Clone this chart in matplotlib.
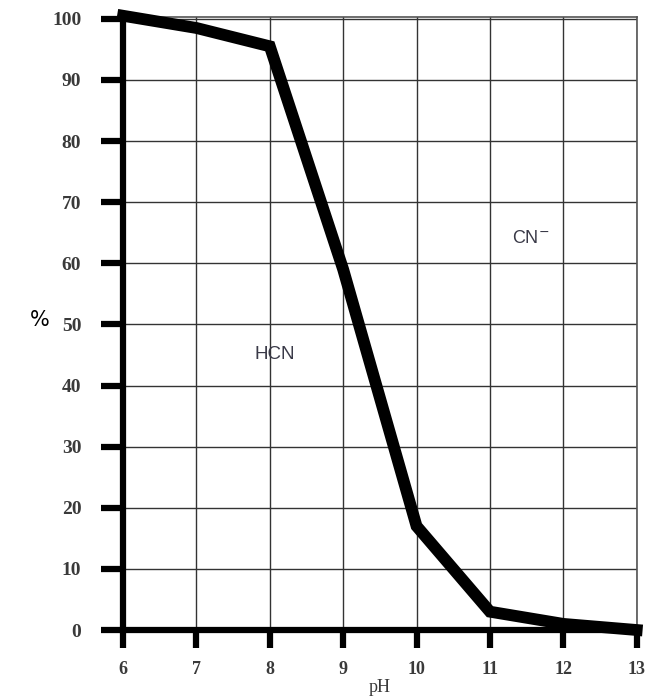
import numpy as np
import matplotlib.pyplot as plt

# pH vs percentage HCN
ph = [6, 7, 8, 9, 10, 11, 12, 13]
pct_hcn = [100.5, 98.5, 95.5, 59, 17, 3, 1, 0]
x_ticks = [6, 7, 8, 9, 10, 11, 12, 13]
y_ticks = [0, 10, 20, 30, 40, 50, 60, 70, 80, 90, 100]

fig = plt.figure(figsize=(6.51, 6.99), dpi=100)
ax = fig.add_axes([0.189, 0.0987, 0.789, 0.877])

ax.plot(ph, pct_hcn, color='black', linewidth=8.5, solid_joinstyle='miter', zorder=5, clip_on=False)

ax.set_xlim(6, 13)
ax.set_ylim(0, 100.3)
ax.set_xticks(x_ticks)
ax.set_yticks(y_ticks)
ax.grid(True, color='#333333', linewidth=1.0)
ax.set_axisbelow(True)

for side in ['top', 'right']:
    ax.spines[side].set_color('#555555')
    ax.spines[side].set_linewidth(1.2)
for side in ['left', 'bottom']:
    ax.spines[side].set_color('black')
    ax.spines[side].set_linewidth(4.5)
    ax.spines[side].set_zorder(6)

ax.tick_params(axis='both', direction='out', width=4.5, color='black', labelcolor='#3a3a3a')
ax.tick_params(axis='y', length=16, pad=14, labelsize=14)
ax.tick_params(axis='x', length=13, pad=9, labelsize=13)
for lbl in ax.get_xticklabels() + ax.get_yticklabels():
    lbl.set_fontfamily('Liberation Serif')
    lbl.set_fontweight('bold')

ax.set_xlabel('pH', fontfamily='Liberation Serif', fontsize=13, color='#3a3a3a', labelpad=1)
fig.text(40 / 651, 1 - 320 / 699, '%', fontsize=15, ha='center', va='center', fontfamily='DejaVu Sans')

ax.text(8.07, 45, 'HCN', fontsize=13.5, ha='center', va='center', color='#3a3a48', fontfamily='Liberation Sans')
ax.text(11.55, 64, 'CN$^{-}$', fontsize=13, ha='center', va='center', color='#3a3a48', fontfamily='Liberation Sans')

fig.savefig('out.png', dpi=100)
